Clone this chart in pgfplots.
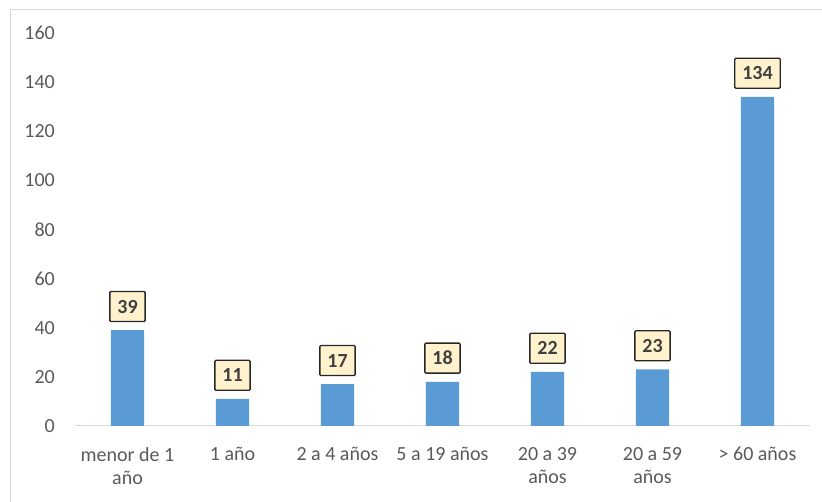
\documentclass[border=0pt]{standalone}
\usepackage{fontspec}
\setmainfont{Carlito}
\usepackage{pgfplots}
\pgfplotsset{compat=1.18}
\definecolor{barblue}{HTML}{5B9BD5}
\definecolor{labelfill}{HTML}{FFF2CC}
\definecolor{boxborder}{HTML}{262626}
\definecolor{labeltext}{HTML}{404040}
\definecolor{tickgray}{HTML}{595959}
\definecolor{axisgray}{HTML}{D9D9D9}
\definecolor{framegray}{HTML}{D9D9D9}
\begin{document}
\begin{tikzpicture}[x=1pt,y=1pt]
\useasboundingbox (0,0) rectangle (822,502);
\draw[framegray, line width=1.2pt] (10.5,-10) rectangle (835,492.5);
\begin{axis}[
  at={(75pt,76pt)}, anchor=south west,
  scale only axis, width=735pt, height=393pt,
  xmin=-0.5, xmax=6.5, ymin=0, ymax=160,
  ytick={0,20,...,160},
  xtick={0,...,6},
  xticklabels={{menor de 1\\año},{1 año},{2 a 4 años},{5 a 19 años},{20 a 39\\años},{20 a 59\\años},{> 60 años}},
  axis lines=left,
  axis line style={-},
  y axis line style={draw=none},
  x axis line style={draw=axisgray, line width=1pt},
  tick style={draw=none},
  major tick length=0pt,
  /pgf/number format/assume math mode=true,
  yticklabel style={anchor=east, inner sep=0pt, xshift=-20pt, text=tickgray, font=\fontsize{20}{23}\selectfont},
  xticklabel style={align=center, anchor=north, inner sep=0pt, yshift=-21pt, text=tickgray, font=\fontsize{20}{23}\selectfont},
  clip=false,
]
\addplot[ybar, bar width=33pt, fill=barblue, draw=none,
  nodes near coords,
  nodes near coords style={fill=labelfill, draw=boxborder, line width=1.3pt, rounded corners=1pt,
    font=\bfseries\fontsize{20}{23}\selectfont, text=labeltext,
    inner xsep=7.5pt, inner ysep=0pt, minimum height=30pt, anchor=south, yshift=8pt},
] coordinates {(0,39) (1,11) (2,17) (3,18) (4,22) (5,23) (6,134)};
\end{axis}
\end{tikzpicture}
\end{document}
